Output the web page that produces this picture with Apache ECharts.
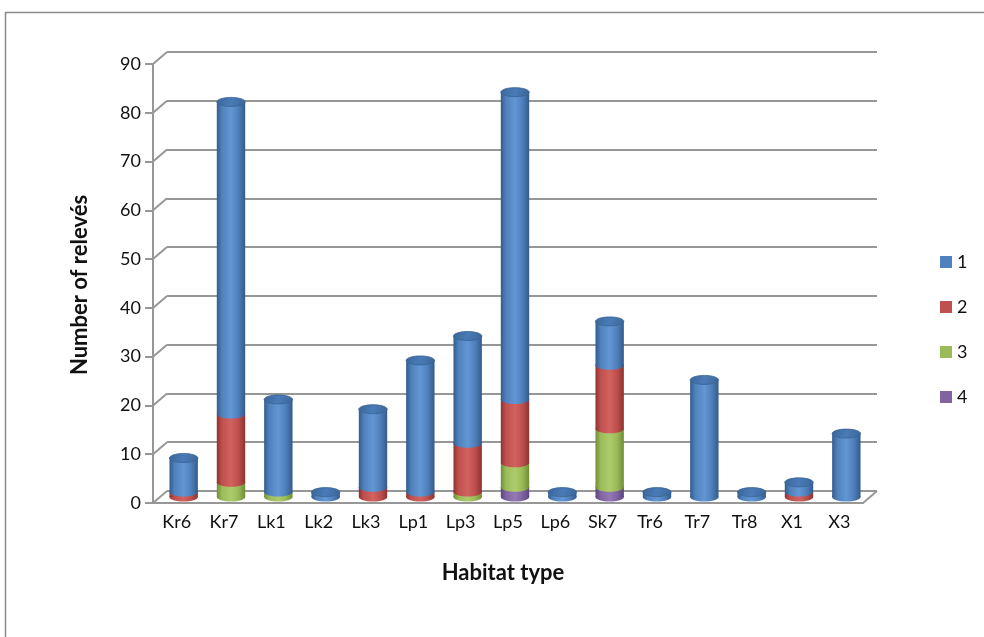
<!DOCTYPE html>
<html>
<head>
<meta charset="utf-8">
<script src="https://cdn.jsdelivr.net/npm/echarts@6/dist/echarts.min.js"></script>
<style>
  html, body { margin: 0; padding: 0; background: #fff; }
  #chart { width: 984px; height: 637px; }
</style>
</head>
<body>
<div id="chart"></div>
<script>
// Habitat types along the category axis
const categories = ['Kr6', 'Kr7', 'Lk1', 'Lk2', 'Lk3', 'Lp1', 'Lp3', 'Lp5', 'Lp6', 'Sk7', 'Tr6', 'Tr7', 'Tr8', 'X1', 'X3'];

// Number of relevés per class (class 4 sits at the bottom of each stack, class 1 on top)
const class1 = [7, 64, 19, 1, 16, 27, 22, 63, 1, 9, 1, 24, 1, 2, 13];
const class2 = [1, 14, 0, 0, 2, 1, 10, 13, 0, 13, 0, 0, 0, 1, 0];
const class3 = [0, 3, 1, 0, 0, 0, 1, 5, 0, 12, 0, 0, 0, 0, 0];
const class4 = [0, 0, 0, 0, 0, 0, 0, 2, 0, 2, 0, 0, 0, 0, 0];

const seriesNames = ['1', '2', '3', '4'];
const yTicks = [0, 10, 20, 30, 40, 50, 60, 70, 80, 90];

const FONT = 'Lato, "Liberation Sans", sans-serif';
const GRID_GRAY = '#979797';
const DEPTH_X = 14, DEPTH_Y = 12;

// base, shadow edge and highlight shades per class
const palette = [
  { base: '#4f81bd', edge: '#345b8b', light: '#6296d4', cap: '#4a7bb7', rim: '#3a6496' },
  { base: '#c0504d', edge: '#8c3431', light: '#d2625f', cap: '#b84c49', rim: '#923936' },
  { base: '#9bbb59', edge: '#708e37', light: '#adcb6c', cap: '#93b354', rim: '#74923b' },
  { base: '#8064a2', edge: '#5b457f', light: '#9378b6', cap: '#7a5f9b', rim: '#5f4982' }
];

const stacks = [class1, class2, class3, class4];

function cylGradient(p) {
  return new echarts.graphic.LinearGradient(0, 0, 1, 0, [
    { offset: 0, color: p.edge },
    { offset: 0.18, color: p.base },
    { offset: 0.5, color: p.light },
    { offset: 0.75, color: p.base },
    { offset: 1, color: p.edge }
  ]);
}

// Build [category, base, top, isTopSegment] rows for each class
function segments(k) {
  return categories.map((c, i) => {
    let base = 0;
    for (let j = stacks.length - 1; j > k; j--) base += stacks[j][i];
    let above = 0;
    for (let j = 0; j < k; j++) above += stacks[j][i];
    return [i, base, base + stacks[k][i], above === 0 ? 1 : 0];
  });
}

function cylinderRenderer(k) {
  const p = palette[k];
  return function (params, api) {
    const ci = api.value(0), b = api.value(1), t = api.value(2), cap = api.value(3);
    if (t <= b) return;
    const pb = api.coord([ci, b]);
    const pt = api.coord([ci, t]);
    const bw = api.size([1, 0])[0] * 0.6;
    const rx = bw / 2, ry = 4.5;
    const cx = pb[0];
    const children = [
      { type: 'ellipse', shape: { cx: cx, cy: pb[1], rx: rx, ry: ry }, style: { fill: cylGradient(p) } },
      { type: 'rect', shape: { x: cx - rx, y: pt[1], width: bw, height: pb[1] - pt[1] }, style: { fill: cylGradient(p) } }
    ];
    if (cap) {
      children.push({
        type: 'ellipse',
        shape: { cx: cx, cy: pt[1], rx: rx, ry: ry },
        style: {
          fill: new echarts.graphic.LinearGradient(0, 0, 1, 1, [
            { offset: 0, color: p.rim },
            { offset: 0.5, color: p.cap },
            { offset: 1, color: p.rim }
          ]),
          stroke: p.rim, lineWidth: 0.8
        }
      });
    }
    return { type: 'group', children: children };
  };
}

// Diagonal edges joining the front axis to the back wall and the floor corner
function depthEdges(params, api) {
  const cs = params.coordSys;
  const v = api.value(1);
  const y = api.coord([0, v])[1];
  const lines = [{
    type: 'line',
    shape: { x1: cs.x, y1: y, x2: cs.x + DEPTH_X, y2: y - DEPTH_Y },
    style: { stroke: GRID_GRAY, lineWidth: 2 }
  }];
  if (v === 0) {
    lines.push({
      type: 'line',
      shape: { x1: cs.x + cs.width, y1: y, x2: cs.x + cs.width + DEPTH_X, y2: y - DEPTH_Y },
      style: { stroke: GRID_GRAY, lineWidth: 2 }
    });
  }
  return { type: 'group', children: lines };
}

const chart = echarts.init(document.getElementById('chart'));

const hiddenCat = { type: 'category', data: categories, show: false, boundaryGap: true };
const hiddenVal = { type: 'value', min: 0, max: 90, interval: 10, show: false };

const cylinderSeries = seriesNames.map((name, k) => ({
  name: name,
  type: 'custom',
  xAxisIndex: 2,
  yAxisIndex: 2,
  z: 10 - k,
  itemStyle: { color: palette[k].base },
  renderItem: cylinderRenderer(k),
  encode: { x: 0, y: [1, 2] },
  data: segments(k)
}));

chart.setOption({
  animation: false,
  backgroundColor: '#ffffff',
  grid: [
    // back wall
    { left: 167, top: 52, width: 710, height: 439 },
    // front plane with the axes
    { left: 153, top: 64, width: 710, height: 439 },
    // middle plane holding the cylinders
    { left: 160, top: 58, width: 710, height: 439 }
  ],
  xAxis: [
    Object.assign({ gridIndex: 0 }, hiddenCat),
    {
      gridIndex: 1, type: 'category', data: categories, boundaryGap: true,
      axisLine: { show: true, lineStyle: { color: GRID_GRAY, width: 2 } },
      axisTick: { show: false },
      axisLabel: { color: '#111', fontSize: 18, fontFamily: FONT, margin: 10, interval: 0 }
    },
    Object.assign({ gridIndex: 2 }, hiddenCat)
  ],
  yAxis: [
    {
      gridIndex: 0, type: 'value', min: 0, max: 90, interval: 10,
      axisLine: { show: false }, axisTick: { show: false }, axisLabel: { show: false },
      splitLine: { show: true, lineStyle: { color: GRID_GRAY, width: 2 } }
    },
    {
      gridIndex: 1, type: 'value', min: 0, max: 90, interval: 10,
      axisLine: { show: true, lineStyle: { color: GRID_GRAY, width: 2 } },
      axisTick: { show: true, length: 8, lineStyle: { color: GRID_GRAY, width: 2 } },
      axisLabel: { color: '#111', fontSize: 18, fontFamily: FONT, margin: 12 },
      splitLine: { show: false }
    },
    Object.assign({ gridIndex: 2 }, hiddenVal)
  ],
  legend: {
    orient: 'vertical',
    left: 935,
    top: 248,
    itemWidth: 12,
    itemHeight: 12,
    itemGap: 27,
    icon: 'rect',
    data: seriesNames,
    textStyle: { color: '#111', fontSize: 18, fontFamily: FONT }
  },
  graphic: [
    {
      type: 'rect', silent: true,
      shape: { x: 5.5, y: 12.5, width: 1200, height: 900 },
      style: { fill: 'none', stroke: '#8a8a8a', lineWidth: 1.5 }
    },
    {
      type: 'text', silent: true, rotation: Math.PI / 2, x: 80, y: 285,
      style: { text: 'Number of relevés', fontSize: 22, fontWeight: 'bold', fontFamily: FONT, fill: '#111', align: 'center', verticalAlign: 'middle' }
    },
    {
      type: 'text', silent: true, x: 503, y: 573,
      style: { text: 'Habitat type', fontSize: 22, fontWeight: 'bold', fontFamily: FONT, fill: '#111', align: 'center', verticalAlign: 'middle' }
    }
  ],
  series: [
    {
      name: 'edges', type: 'custom', xAxisIndex: 1, yAxisIndex: 1, silent: true, z: 1,
      renderItem: depthEdges,
      data: yTicks.map(v => [0, v])
    }
  ].concat(cylinderSeries)
});
</script>
</body>
</html>
